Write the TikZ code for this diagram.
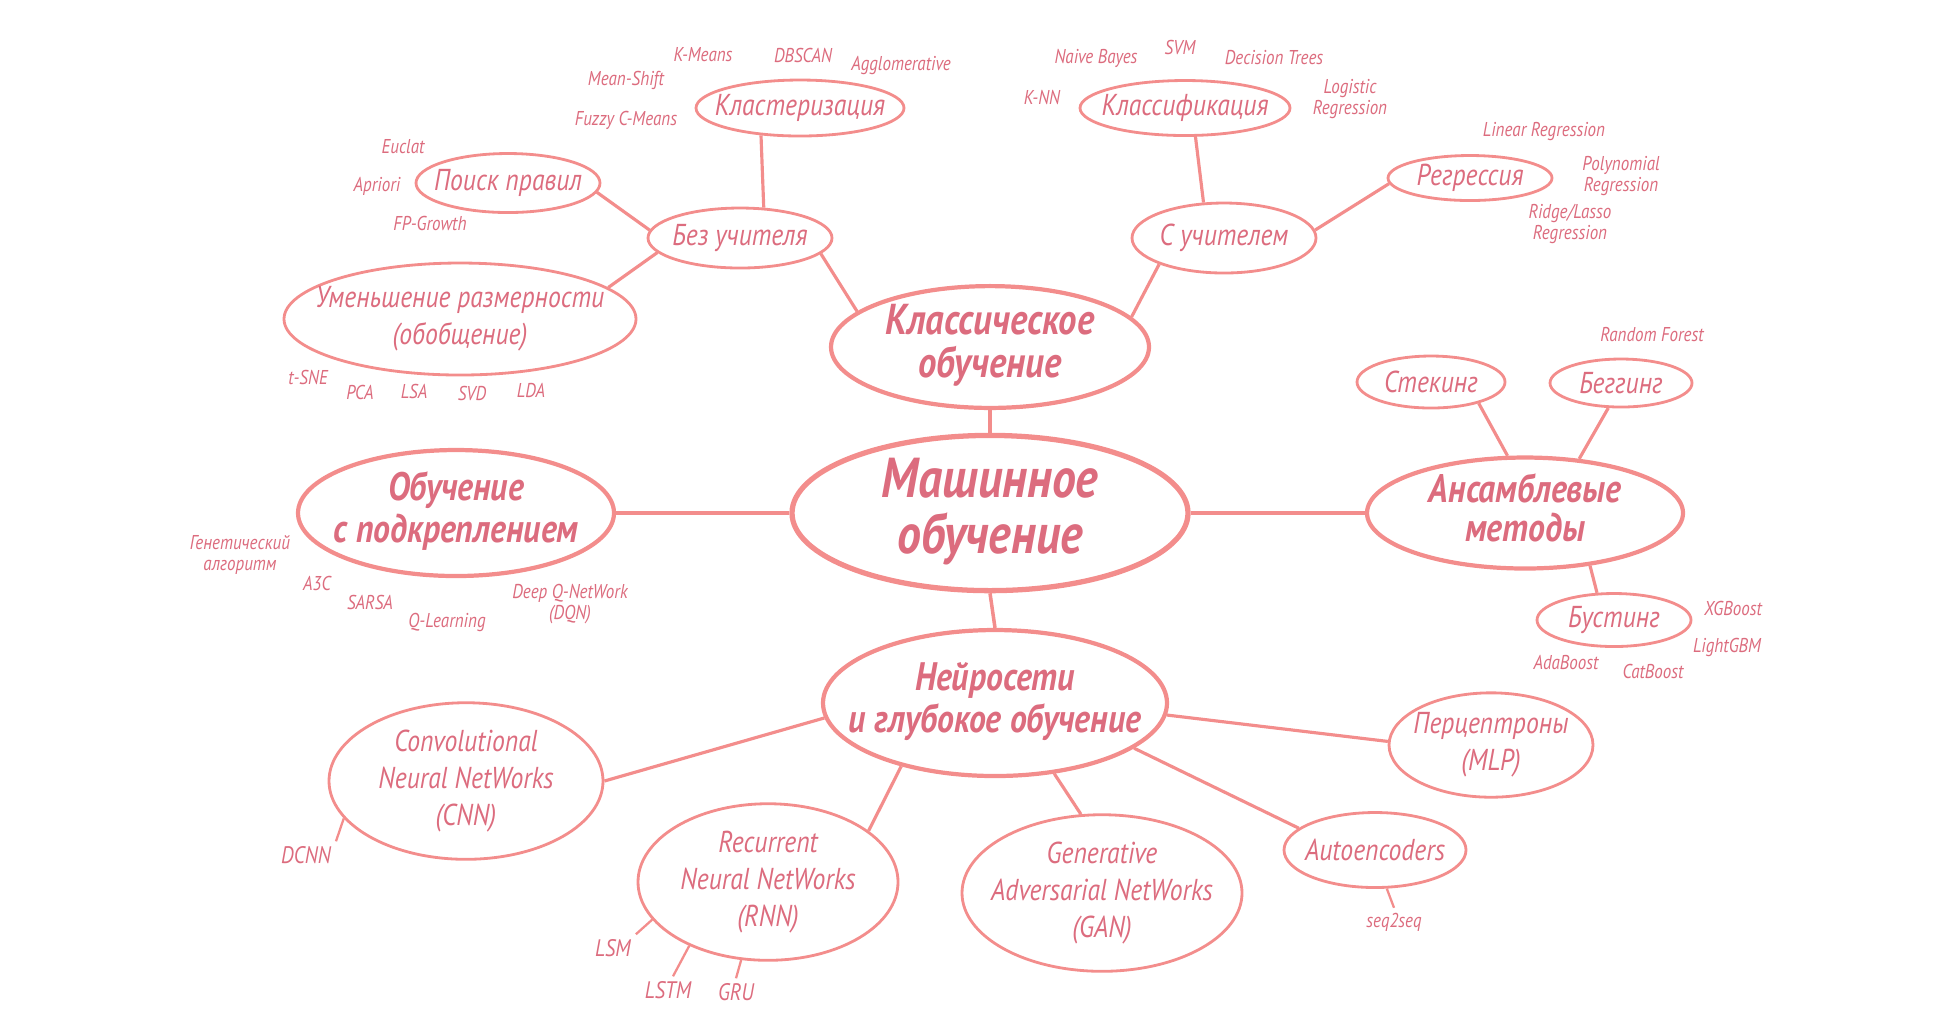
\documentclass[tikz,border=0pt]{standalone}
\usepackage{fontspec}
\setmainfont{PT Sans}[FakeStretch=0.85]
\usetikzlibrary{shapes.geometric}
\definecolor{cline}{HTML}{F38D8C}
\definecolor{ctext}{HTML}{DC6C7E}
% text that does not widen its oval
\newcommand{\oneline}[1]{\makebox[0pt]{#1}}
\newcommand{\manylines}[1]{\makebox[0pt]{\begin{tabular}{@{}c@{}}#1\end{tabular}}}
\tikzset{
  every picture/.style={x=0.1mm, y=-0.1mm, line width=0.9pt},
  oval/.style 2 args={ellipse, draw=cline, inner sep=0pt, text=ctext, minimum width=#1mm, minimum height=#2mm},
  root/.style={line width=1.5pt, font=\bfseries\itshape\fontsize{16}{14}\selectfont},
  topic/.style={line width=1.2pt, font=\bfseries\itshape\fontsize{11.3}{12}\selectfont},
  sub/.style={line width=0.8pt, font=\itshape\fontsize{8.6}{10.5}\selectfont},
  leaf/.style={text=ctext, inner sep=1pt, align=center, font=\itshape\fontsize{5.7}{6.2}\selectfont},
  bigleaf/.style={leaf, font=\itshape\fontsize{6.8}{7}\selectfont},
  link/.style={draw=cline, line width=0.9pt},
  twig/.style={draw=cline, line width=0.65pt},
}

\begin{document}
\begin{tikzpicture}
  \useasboundingbox (0,0) rectangle (1956,1008);
  % centre and main branches
  \node[oval={39.6}{14.3}, root] (ml) at (990,513) {\manylines{Машинное\\обучение}};
  \node[oval={31.8}{11}, topic, font=\bfseries\itshape\fontsize{12.3}{11.6}\selectfont] (classic) at (990,347) {\manylines{Классическое\\обучение}};
  \node[oval={34.4}{14.6}, topic] (deep) at (995,703) {\manylines{Нейросети\\и глубокое обучение}};
  \node[oval={31.6}{12.6}, topic] (rl) at (456,513) {\manylines{Обучение\\с подкреплением}};
  \node[oval={31.6}{11}, topic, font=\bfseries\itshape\fontsize{11.3}{10}\selectfont] (ens) at (1525,513) {\manylines{Ансамблевые\\методы}};
  \draw[link, line width=1pt] (classic.south) -- (ml.north);
  \draw[link, line width=1pt] (ml.south) -- (deep.north);
  \draw[link, line width=1pt] (rl.east) -- (ml.west);
  \draw[link, line width=1pt] (ml.east) -- (ens.west);
  % classic learning
  \node[oval={18.4}{6}, sub] (bez) at (740,238) {\oneline{Без учителя}};
  \node[oval={18.4}{7}, sub] (teach) at (1224,238) {\oneline{С учителем}};
  \node[oval={20.8}{5.6}, sub] (clust) at (800,108) {\oneline{Кластеризация}};
  \node[oval={18.4}{5.9}, sub] (rules) at (508,183) {\oneline{Поиск правил}};
  \node[oval={35.2}{11.2}, sub] (dimred) at (460,319) {\manylines{Уменьшение размерности\\(обобщение)}};
  \node[oval={21}{5.5}, sub] (classif) at (1185,108) {\oneline{Классификация}};
  \node[oval={16.4}{4.5}, sub] (regr) at (1470,178) {\oneline{Регрессия}};
  \draw[link] (bez.-11) -- (classic.165);
  \draw[link] (clust.-145) -- (bez.52);
  \draw[link] (rules.-6) -- (bez.175);
  \draw[link] (dimred.12) -- (bez.-170);
  \draw[link] (teach.-158) -- (classic.12);
  \draw[link] (classif.-70) -- (teach.120);
  \draw[link] (regr.-176) -- (teach.5);
  \foreach \x/\y/\t [count=\k] in {703/55/K-Means, 803/55/DBSCAN, 901/65/Agglomerative, 626/80/Mean-Shift, 626/120/Fuzzy C-Means}
    \node[leaf] (clu\k) at (\x,\y) {\t};
  \foreach \x/\y/\t [count=\k] in {403/147/Euclat, 377/186/Apriori, 430/223/FP-Growth}
    \node[leaf] (rul\k) at (\x,\y) {\t};
  \foreach \x/\y/\t [count=\k] in {308/377/t-SNE, 360/392/PCA, 414/391/LSA, 472/393/SVD, 531/390/LDA}
    \node[leaf] (dim\k) at (\x,\y) {\t};
  \foreach \x/\y/\t [count=\k] in {1096/58/Naive Bayes, 1180/47/SVM, 1274/58/Decision Trees, 1042/97/K-NN}
    \node[leaf] (cls\k) at (\x,\y) {\t};
  \node[leaf] (cls5) at (1350,99) {Logistic\\Regression};
  \node[leaf] (reg1) at (1544,132) {Linear Regression};
  \node[leaf] (reg2) at (1621,176) {Polynomial\\Regression};
  \node[leaf] (reg3) at (1570,224) {Ridge/Lasso\\Regression};
  % ensembles
  \node[oval={14.8}{5.2}, sub] (stack) at (1431,382) {\oneline{Стекинг}};
  \node[oval={14.2}{4.8}, sub] (bag) at (1621,383) {\oneline{Беггинг}};
  \node[oval={15.4}{5.3}, sub] (boost) at (1614,620) {\oneline{Бустинг}};
  \draw[link] (stack.-24) -- (ens.107);
  \draw[link] (bag.-117) -- (ens.45);
  \draw[link] (ens.-39) -- (boost.122);
  \node[leaf] (bag1) at (1652,335) {Random Forest};
  \foreach \x/\y/\t [count=\k] in {1733/608/XGBoost, 1727/647/LightGBM, 1566/662/AdaBoost, 1653/671/CatBoost}
    \node[leaf] (bst\k) at (\x,\y) {\t};
  % reinforcement
  \node[leaf] (rl1) at (240,555) {Генетический\\алгоритм};
  \foreach \x/\y/\t [count=\k from 2] in {317/583/A3C, 370/602/SARSA, 447/622/Q-Learning}
    \node[leaf] (rl\k) at (\x,\y) {\t};
  \node[leaf] (rl5) at (570,604) {Deep Q-NetWork\\(DQN)};
  % neural networks
  \node[oval={27.4}{14.8}, sub] (cnn) at (466,781) {\manylines{Convolutional\\Neural NetWorks\\(CNN)}};
  \node[oval={26}{13.9}, sub] (rnn) at (768,882) {\manylines{Recurrent\\Neural NetWorks\\(RNN)}};
  \node[oval={28}{14.4}, sub] (gan) at (1102,893) {\manylines{Generative\\Adversarial NetWorks\\(GAN)}};
  \node[oval={18.2}{7.5}, sub] (ae) at (1375,850) {\oneline{Autoencoders}};
  \node[oval={20.4}{9.6}, sub] (mlp) at (1491,745) {\manylines{Перцептроны\\(MLP)}};
  \draw[link] (deep.-175) -- (cnn.east);
  \draw[link] (deep.-146) -- (rnn.27);
  \draw[link] (deep.-50) -- (gan.105);
  \draw[link] (deep.-18) -- (ae.164);
  \draw[link] (deep.-4) -- (mlp.178);
  \node[bigleaf] (dcnn) at (306,855) {DCNN};
  \node[bigleaf] (lsm) at (613,948) {LSM};
  \node[bigleaf] (lstm) at (668,990) {LSTM};
  \node[bigleaf] (gru) at (736,992) {GRU};
  \node[leaf] (seq) at (1394,922) {seq2seq};
  \draw[twig] (cnn.-163) -- (dcnn.north east);
  \draw[twig] (rnn.-162) -- (lsm.north east);
  \draw[twig] (rnn.-141) -- (lstm.70);
  \draw[twig] (rnn.-109) -- (gru.north);
  \draw[twig] (ae.-73) -- (seq.north);
\end{tikzpicture}
\end{document}
